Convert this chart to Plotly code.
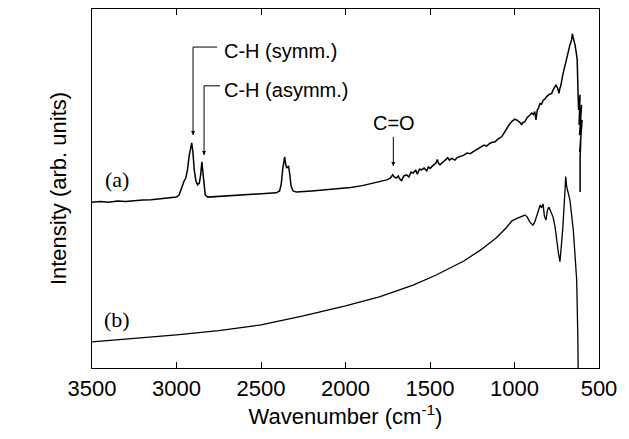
import plotly.graph_objects as go

# FTIR spectra, intensity in arbitrary units
wn_a = [3500, 3450, 3400, 3350, 3300, 3250, 3200, 3150, 3100, 3050, 3000, 2985, 2975, 2965,
        2955, 2945, 2935, 2925, 2915, 2910, 2903, 2895, 2885, 2875, 2865, 2857, 2850, 2844,
        2838, 2830, 2815, 2750, 2700, 2650, 2600, 2550, 2500, 2450, 2410, 2390, 2380, 2372,
        2365, 2360, 2354, 2348, 2342, 2337, 2330, 2322, 2310, 2290, 2200, 2100, 2000, 1970,
        1900, 1855, 1800, 1756, 1735, 1721, 1712, 1700, 1688, 1678, 1668, 1655, 1638, 1625,
        1612, 1599, 1585, 1575, 1562, 1549, 1535, 1520, 1510, 1500, 1480, 1465, 1457, 1450,
        1441, 1425, 1410, 1395, 1385, 1372, 1352, 1340, 1322, 1300, 1280, 1262, 1244, 1220,
        1200, 1180, 1165, 1145, 1130, 1115, 1095, 1076, 1060, 1046, 1030, 1017, 1000, 987,
        975, 965, 958, 950, 938, 925, 910, 898, 888, 880, 873, 868, 865, 858, 849, 840, 830,
        820, 810, 795, 780, 770, 762, 755, 745, 737, 731, 727, 715, 701, 690, 682, 672, 662,
        658, 654, 648, 642, 635, 629, 625, 621, 612, 618, 603, 615, 600, 610, 605, 614, 608,
        612, 613, 612]
int_a = [46.2, 46.4, 46.2, 46.5, 46.4, 46.7, 46.8, 46.9, 47.1, 47.4, 47.6, 48.2, 49.6, 51.3,
         52.1, 52.9, 55.2, 59.1, 62.4, 62.7, 60.2, 55.2, 52.1, 51.0, 51.5, 53.8, 57.4, 54.6,
         50.1, 48.2, 47.6, 47.8, 47.9, 48.1, 48.2, 48.3, 48.5, 48.6, 48.8, 49.3, 51.3, 55.2,
         57.9, 58.8, 56.8, 55.7, 56.0, 56.3, 54.0, 50.7, 49.3, 49.0, 49.3, 49.7, 50.1, 50.3,
         50.8, 51.3, 51.7, 52.4, 52.9, 53.8, 53.2, 52.9, 53.5, 52.6, 52.2, 53.5, 53.8, 53.2,
         54.6, 54.3, 55.2, 54.0, 55.4, 55.2, 55.7, 54.9, 56.0, 55.6, 56.5, 57.1, 58.1, 57.0,
         56.6, 57.4, 57.9, 58.6, 57.9, 58.4, 57.9, 58.6, 58.9, 59.3, 59.9, 59.7, 60.3, 61.0,
         61.5, 62.1, 61.8, 62.6, 62.9, 63.0, 63.9, 64.4, 65.6, 66.8, 67.9, 68.6, 69.3, 69.1,
         68.7, 68.3, 67.7, 68.4, 68.6, 69.8, 70.4, 71.0, 70.6, 71.4, 69.1, 71.5, 71.9, 72.4,
         73.7, 73.5, 74.6, 74.9, 75.6, 76.2, 76.5, 77.6, 78.3, 78.8, 78.0, 76.5, 78.0, 78.4,
         81.5, 84.5, 86.5, 88.0, 90.0, 91.4, 93.1, 92.3, 91.4, 90.0, 88.0, 85.8, 78.3, 71.9,
         76.1, 67.7, 73.3, 64.9, 69.1, 62.1, 66.3, 60.2, 63.5, 58.0, 53.8, 49.0]

wn_b = [3500, 3250, 3000, 2750, 2500, 2250, 2000, 1800, 1600, 1463, 1300, 1200, 1109, 1050,
        1015, 985, 960, 938, 925, 910, 891, 880, 865, 848, 840, 831, 823, 814, 805, 796, 785,
        772, 760, 748, 740, 731, 725, 715, 701, 697, 691, 672, 652, 632, 625, 623, 622]
int_b = [7.3, 8.2, 9.2, 10.4, 12.0, 14.5, 17.3, 19.8, 23.1, 25.9, 29.8, 32.9, 36.2, 39.0,
         41.0, 41.7, 42.1, 42.6, 42.1, 40.7, 39.8, 40.7, 42.9, 45.4, 44.6, 45.7, 42.3, 41.2,
         44.0, 44.8, 43.5, 42.1, 39.3, 34.3, 32.0, 29.6, 33.0, 38.4, 49.6, 53.3, 50.5, 46.8,
         38.4, 24.5, 8.0, 0.4, -8.0]

x_ticks = [3500, 3000, 2500, 2000, 1500, 1000, 500]

SANS = "Liberation Sans, Arial, sans-serif"
SERIF = "Liberation Serif, Times New Roman, serif"

fig = go.Figure()
fig.add_trace(go.Scatter(x=wn_a, y=int_a, mode="lines",
                         line=dict(color="black", width=1.5), showlegend=False,
                         hoverinfo="skip"))
fig.add_trace(go.Scatter(x=wn_b, y=int_b, mode="lines",
                         line=dict(color="black", width=1.3), showlegend=False,
                         hoverinfo="skip"))


def pointer(xs, ys):
    """Thin leader line ending in a downward arrowhead at its last point."""
    fig.add_trace(go.Scatter(x=xs, y=ys, mode="lines", line=dict(color="black", width=1),
                             showlegend=False, hoverinfo="skip"))
    fig.add_trace(go.Scatter(x=[xs[-1]], y=[ys[-1]], mode="markers",
                             marker=dict(symbol="arrow-down", size=4, color="black",
                                         line=dict(width=0)),
                             showlegend=False, hoverinfo="skip"))


def label(x, y, text, family=SANS, size=20, anchor="left"):
    fig.add_annotation(x=x, y=y, xref="x", yref="y", text=text, showarrow=False,
                       xanchor=anchor, yanchor="middle",
                       font=dict(family=family, size=size, color="black"))


# band assignments
pointer([2760, 2902, 2902], [89.4, 89.4, 64.9])
label(2728, 88.2, "C-H (symm.)")
pointer([2743, 2837, 2837], [78.6, 78.6, 59.3])
label(2728, 77.4, "C-H (asymm.)")
pointer([1717, 1717], [64.4, 56.3])
label(1713, 68.3, "C=O", anchor="center")

# spectrum labels
label(3350, 52.4, "(a)", family=SERIF, size=22, anchor="center")
label(3350, 13.4, "(b)", family=SERIF, size=22, anchor="center")

fig.update_layout(
    width=629, height=439,
    margin=dict(l=92, r=30, t=9, b=71),
    paper_bgcolor="white", plot_bgcolor="white",
    font=dict(family=SANS, color="black"),
    xaxis=dict(range=[3500, 500], tickvals=x_ticks, ticks="inside", ticklen=6,
               tickwidth=1, tickcolor="black", showline=True, linecolor="black",
               linewidth=1.3, mirror="ticks", showgrid=False, zeroline=False,
               tickfont=dict(family=SANS, size=22, color="black"),
               title=dict(text="Wavenumber (cm<sup>-1</sup>)", standoff=9,
                          font=dict(family=SANS, size=22, color="black"))),
    yaxis=dict(range=[0, 100], showticklabels=False, ticks="", showline=True,
               linecolor="black", linewidth=1.3, mirror=True, showgrid=False,
               zeroline=False,
               title=dict(text="Intensity (arb. units)", standoff=18,
                          font=dict(family=SANS, size=22, color="black"))),
)

fig.write_html("out.html")
